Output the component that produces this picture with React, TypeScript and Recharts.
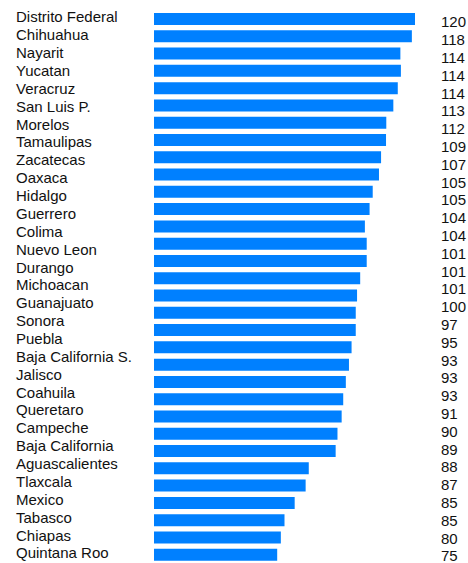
import React from 'react'
import { BarChart, Bar, XAxis, YAxis } from 'recharts'

// state names, top to bottom
const states = [
    'Distrito Federal', 'Chihuahua', 'Nayarit', 'Yucatan', 'Veracruz', 'San Luis P.',
    'Morelos', 'Tamaulipas', 'Zacatecas', 'Oaxaca', 'Hidalgo', 'Guerrero', 'Colima',
    'Nuevo Leon', 'Durango', 'Michoacan', 'Guanajuato', 'Sonora', 'Puebla',
    'Baja California S.', 'Jalisco', 'Coahuila', 'Queretaro', 'Campeche',
    'Baja California', 'Aguascalientes', 'Tlaxcala', 'Mexico', 'Tabasco', 'Chiapas',
    'Quintana Roo',
]

// numbers printed in the right column
const scores = [
    120, 118, 114, 114, 114, 113, 112, 109, 107, 105, 105, 104, 104, 101, 101, 101,
    100, 97, 95, 93, 93, 93, 91, 90, 89, 88, 87, 85, 85, 80, 75,
]

// bar lengths as drawn (32 bars, relative to the longest = 100)
const barLengths = [
    100, 98.8, 94.4, 94.6, 93.4, 91.7, 89.0, 88.9, 87.0, 86.2, 83.8, 82.6, 80.8, 81.5,
    81.5, 79.0, 77.8, 77.3, 77.3, 75.7, 74.7, 73.5, 72.5, 71.9, 70.3, 69.6, 59.3, 58.1,
    53.9, 50.0, 48.6, 47.2,
]

const barRows = barLengths.map((v, i) => ({ idx: i, length: v }))
const labelRows = states.map((s, i) => ({ idx: i, name: s, score: scores[i] }))
const ticks = states.map((_, i) => i)

const FONT = '"Liberation Sans", Arial, sans-serif'

const NameTick = (props: any) => {
    const { y, payload } = props
    return (
        <text x={16} y={y} dy="0.36em" textAnchor="start" fontSize={15} fontFamily={FONT} fill="#111">
            {states[payload.value]}
        </text>
    )
}

const ScoreTick = (props: any) => {
    const { y, payload } = props
    return (
        <text x={441} y={y} dy="0.36em" textAnchor="start" fontSize={15} fontFamily={FONT} fill="#111">
            {scores[payload.value]}
        </text>
    )
}

export default function App() {
    return (
        <div style={{ position: 'absolute', left: 0, top: 0, width: 468, height: 563, background: '#fff' }}>
            <div style={{ position: 'absolute', left: 0, top: 0 }}>
                <BarChart
                    width={468}
                    height={563}
                    data={barRows}
                    layout="vertical"
                    margin={{ top: 10, right: 53, bottom: 0, left: 154 }}
                    barCategoryGap={0}
                >
                    <XAxis type="number" domain={[0, 100]} hide />
                    <YAxis type="category" dataKey="idx" hide />
                    <Bar dataKey="length" fill="#0080FF" barSize={12} isAnimationActive={false} />
                </BarChart>
            </div>
            {/* labels overlay: 31 names and scores spread on their own scale */}
            <div style={{ position: 'absolute', left: 0, top: 0 }}>
                <BarChart
                    width={468}
                    height={563}
                    data={labelRows}
                    layout="vertical"
                    margin={{ top: 10, right: 0, bottom: 0, left: 0 }}
                >
                    <XAxis type="number" domain={[0, 100]} hide />
                    <YAxis
                        yAxisId="names"
                        type="number"
                        dataKey="idx"
                        orientation="left"
                        width={154}
                        domain={[0, 30]}
                        ticks={ticks}
                        interval={0}
                        padding={{ top: 7, bottom: 10 }}
                        axisLine={false}
                        tickLine={false}
                        tick={<NameTick />}
                    />
                    <YAxis
                        yAxisId="scores"
                        type="number"
                        dataKey="idx"
                        orientation="right"
                        width={53}
                        domain={[0, 30]}
                        ticks={ticks}
                        interval={0}
                        padding={{ top: 12, bottom: 7 }}
                        axisLine={false}
                        tickLine={false}
                        tick={<ScoreTick />}
                    />
                </BarChart>
            </div>
        </div>
    )
}
